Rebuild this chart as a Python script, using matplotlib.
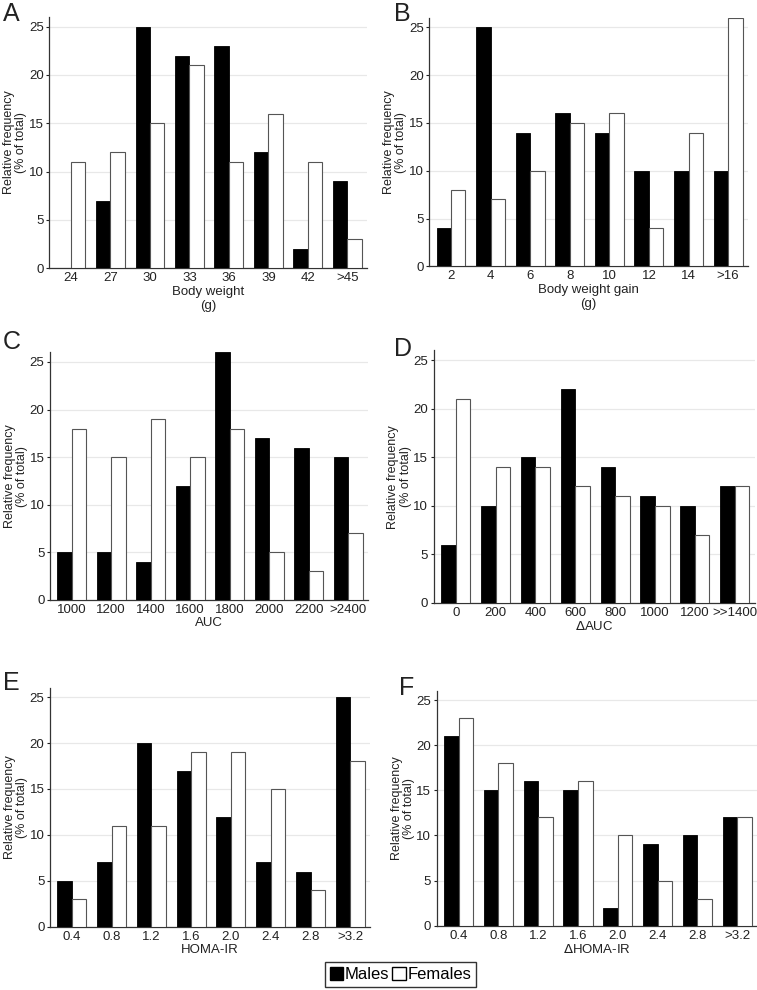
import numpy as np
import matplotlib.pyplot as plt
from matplotlib.patches import Patch

plt.rcParams.update({'font.family': 'Liberation Sans', 'font.size': 8})

# ==============================================================================
# DATA (relative frequency, % of total)
# ==============================================================================
cats_A = ['24', '27', '30', '33', '36', '39', '42', '>45']
males_A = [0, 7, 25, 22, 23, 12, 2, 9]
females_A = [11, 12, 15, 21, 11, 16, 11, 3]

cats_B = ['2', '4', '6', '8', '10', '12', '14', '>16']
males_B = [4, 25, 14, 16, 14, 10, 10, 10]
females_B = [8, 7, 10, 15, 16, 4, 14, 26]

cats_C = ['1000', '1200', '1400', '1600', '1800', '2000', '2200', '>2400']
males_C = [5, 5, 4, 12, 26, 17, 16, 15]
females_C = [18, 15, 19, 15, 18, 5, 3, 7]

cats_D = ['0', '200', '400', '600', '800', '1000', '1200', '>>1400']
males_D = [6, 10, 15, 22, 14, 11, 10, 12]
females_D = [21, 14, 14, 12, 11, 10, 7, 12]

cats_E = ['0.4', '0.8', '1.2', '1.6', '2.0', '2.4', '2.8', '>3.2']
males_E = [5, 7, 20, 17, 12, 7, 6, 25]
females_E = [3, 11, 11, 19, 19, 15, 4, 18]

cats_F = ['0.4', '0.8', '1.2', '1.6', '2.0', '2.4', '2.8', '>3.2']
males_F = [21, 15, 16, 15, 2, 9, 10, 12]
females_F = [23, 18, 12, 16, 10, 5, 3, 12]

# ==============================================================================
# LAYOUT
# ==============================================================================
panels = [
    ('A', cats_A, males_A, females_A, 'Body weight\n(g)', [0.065, 0.729, 0.420, 0.254], (0.004, 0.998)),
    ('B', cats_B, males_B, females_B, 'Body weight gain\n(g)', [0.567, 0.731, 0.421, 0.251], (0.521, 0.998)),
    ('C', cats_C, males_C, females_C, 'AUC', [0.066, 0.394, 0.420, 0.250], (0.004, 0.667)),
    ('D', cats_D, males_D, females_D, r'$\Delta$AUC', [0.573, 0.391, 0.424, 0.255], (0.521, 0.660)),
    ('E', cats_E, males_E, females_E, 'HOMA-IR', [0.066, 0.064, 0.423, 0.241], (0.004, 0.322)),
    ('F', cats_F, males_F, females_F, r'$\Delta$HOMA-IR', [0.577, 0.065, 0.423, 0.237], (0.527, 0.317)),
]

txt = '#222222'
w = 0.365

fig = plt.figure(figsize=(7.57, 9.90), dpi=100)

for letter, cats, males, females, xlabel, pos, lpos in panels:
    ax = fig.add_axes(pos)
    x = np.arange(len(cats))
    ax.bar(x - w/2, males, w, color='black', edgecolor='black', linewidth=0.6, zorder=3)
    ax.bar(x + w/2, females, w, color='white', edgecolor='#555555', linewidth=0.8, zorder=3)
    ax.set_xlim(-0.55, 7.5)
    ax.set_ylim(0, 26)
    ax.set_yticks([0, 5, 10, 15, 20, 25])
    ax.set_xticks(x)
    ax.set_xticklabels(cats)
    ax.yaxis.grid(True, color='#e8e8e8', linewidth=0.9, zorder=0)
    ax.set_axisbelow(True)
    for s in ['top', 'right']:
        ax.spines[s].set_visible(False)
    for s in ['left', 'bottom']:
        ax.spines[s].set_color('#333333')
        ax.spines[s].set_linewidth(0.9)
    ax.tick_params(axis='x', length=0, pad=3, labelsize=9.5, colors=txt)
    ax.tick_params(axis='y', length=2.5, width=0.8, pad=1.5, labelsize=9.5, colors=txt)
    ax.set_xlabel(xlabel, fontsize=9.5, color=txt, labelpad=1, linespacing=1.25)
    ax.set_ylabel('Relative frequency\n(% of total)', fontsize=9, color=txt, labelpad=1, linespacing=1.05)
    fig.text(lpos[0], lpos[1], letter, fontsize=18, color=txt, va='top', ha='left')

handles = [Patch(facecolor='black', edgecolor='black', label='Males'),
           Patch(facecolor='white', edgecolor='black', label='Females')]
leg = fig.legend(handles=handles, loc='center', bbox_to_anchor=(0.529, 0.0158), ncol=2,
                 fontsize=12, frameon=True, fancybox=False, edgecolor='black',
                 handlelength=0.8, handleheight=0.8, handletextpad=0.1, columnspacing=0.2,
                 borderpad=0.3, borderaxespad=0)
leg.get_frame().set_linewidth(1.0)

fig.savefig('out.png', dpi=100)
